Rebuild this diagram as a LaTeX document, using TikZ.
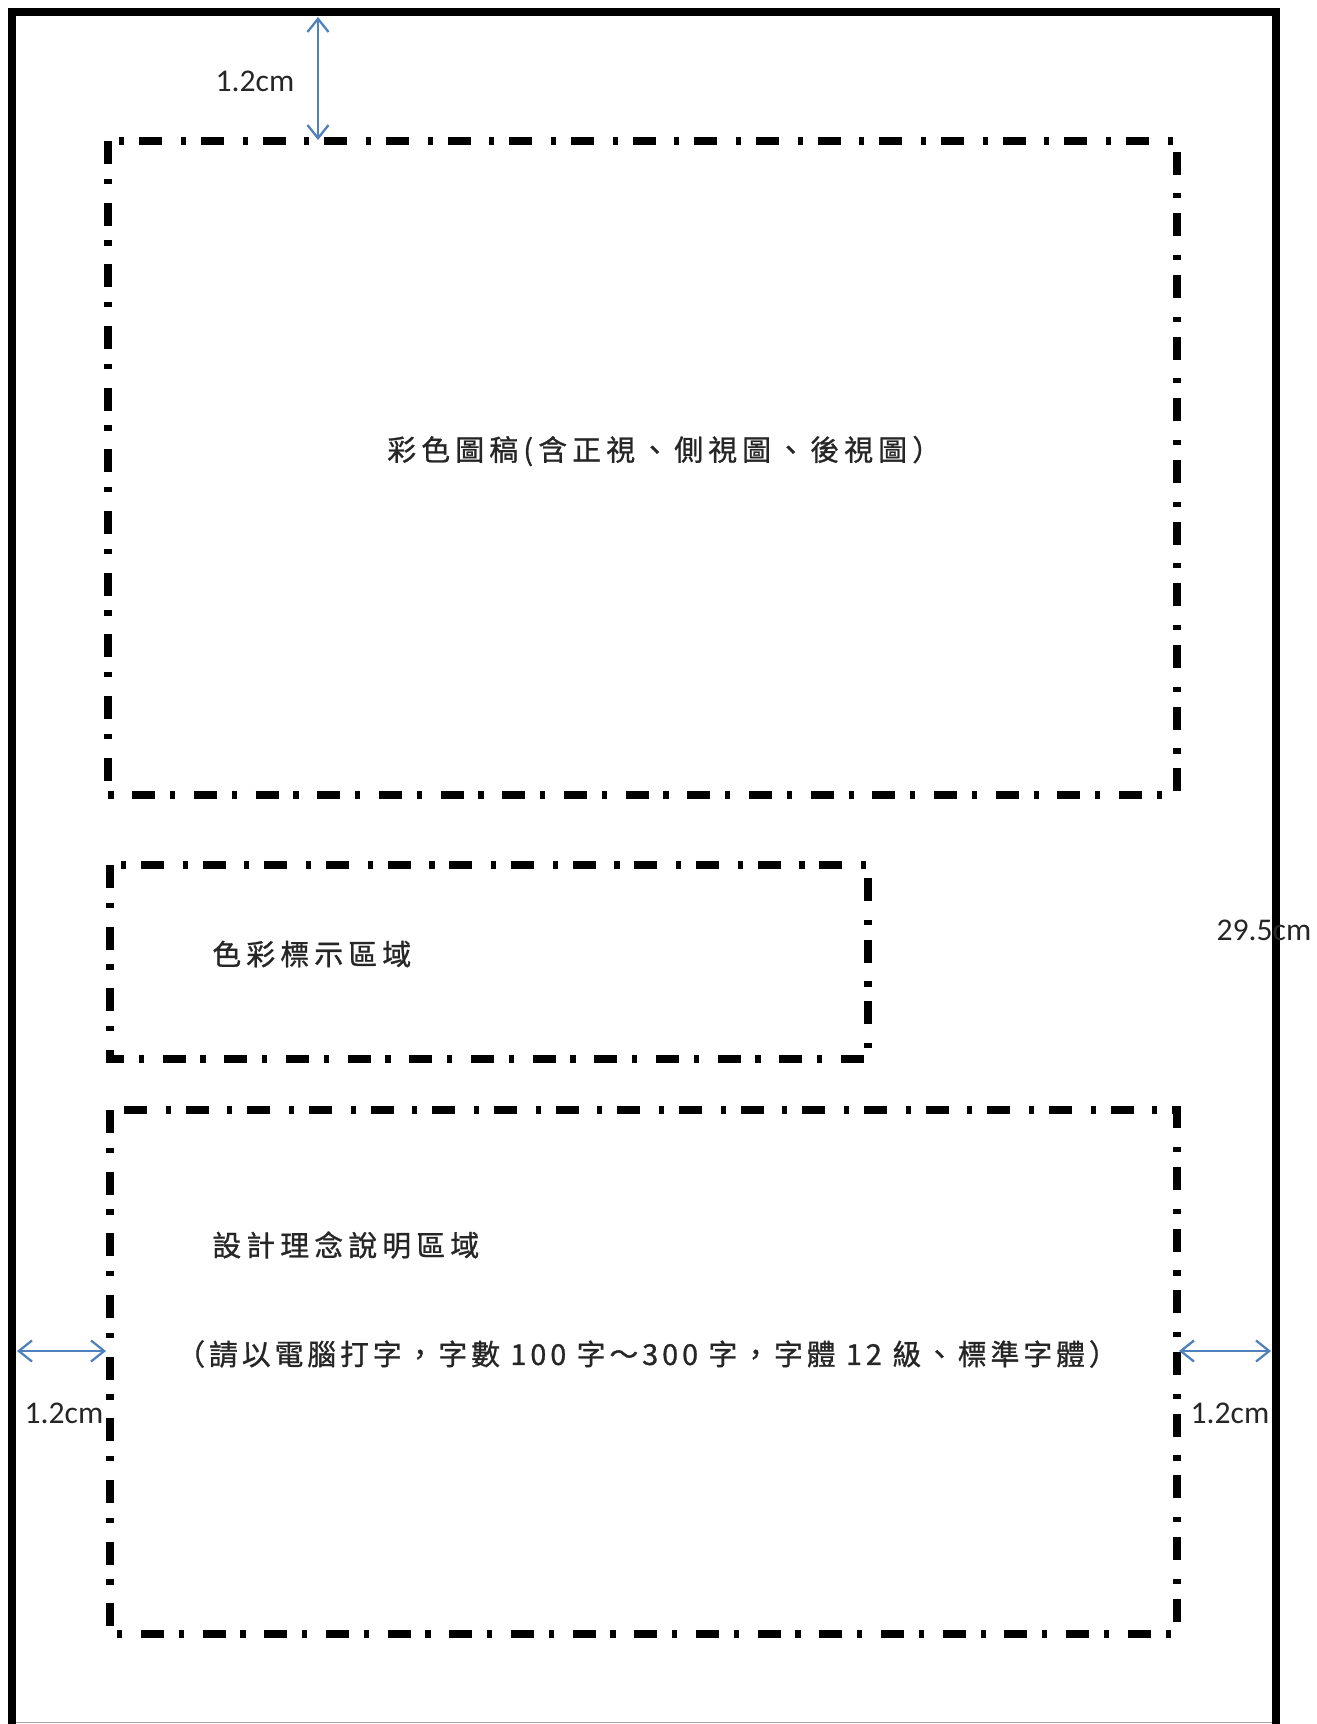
\documentclass[tikz,border=0pt]{standalone}
\usepackage{fontspec}
\setmainfont{Carlito}
\newfontfamily\cjk[LetterSpace=18,FakeBold=1]{Noto Sans CJK TC}
\newfontfamily\cjknarrow[LetterSpace=13.7,FakeBold=1]{Noto Sans CJK TC}
\usetikzlibrary{arrows.meta}
\definecolor{dimblue}{RGB}{79,129,189}
\tikzset{
  frameline/.style={line width=4.6pt, line cap=rect},
  zonebox/.style={line width=5pt, dash pattern=on 13pt off 8.5pt on 3pt off 10.6pt},
  dimarrow/.style={dimblue, line width=1.3pt, {Straight Barb[length=7.5pt,width=12pt,line width=1.3pt]}-{Straight Barb[length=7.5pt,width=12pt,line width=1.3pt]}},
  dimlabel/.style={font=\fontsize{18}{20}\selectfont, inner sep=0pt, text=black!85},
  zonetext/.style={font=\cjk\fontsize{16.4}{18}\selectfont, inner sep=0pt, anchor=west, text=black!85}
}
\begin{document}
\begin{tikzpicture}[x=0.02cm,y=-0.02cm]
\useasboundingbox (0,0) rectangle (1317,1724);
% outer frame (open at the bottom)
\coordinate (fbl) at (12,1724);
\coordinate (ftl) at (12,12);
\coordinate (ftr) at (1276,12);
\coordinate (fbr) at (1276,1724);
\draw[frameline] (fbl) -- (ftl) -- (ftr) -- (fbr);
\draw[black!35, line width=0.4pt] (16,1722.5) -- (1272,1722.5);
% zones
\coordinate (a1) at (108,141); \coordinate (a2) at (1177,795);
\coordinate (b1) at (110,865); \coordinate (b2) at (868,1059);
\coordinate (c1) at (110,1110); \coordinate (c2) at (1177,1634);
\draw[zonebox] (a1) rectangle (a2);
\draw[zonebox] (b1) rectangle (b2);
\draw[zonebox] (c1) rectangle (c2);
% texts
\node[zonetext] (t1) at (387,451) {彩色圖稿(含正視、側視圖、後視圖）};
\node[zonetext] (t2) at (212,954) {色彩標示區域};
\node[zonetext] (t3) at (212,1245) {設計理念說明區域};
\node[zonetext, font=\cjknarrow\fontsize{16.4}{18}\selectfont] (t4) at (176,1354) {（請以電腦打字，字數 100 字～300 字，字體 12 級、標準字體）};
% dimension arrows
\coordinate (d1s) at (318,17); \coordinate (d1e) at (318,140);
\draw[dimarrow] (d1s) -- (d1e);
\node[dimlabel] (l1) at (255,81) {1.2cm};
\coordinate (d2s) at (17,1351); \coordinate (d2e) at (106,1351);
\draw[dimarrow] (d2s) -- (d2e);
\node[dimlabel] (l2) at (64,1413) {1.2cm};
\coordinate (d3s) at (1179,1351); \coordinate (d3e) at (1271,1351);
\draw[dimarrow] (d3s) -- (d3e);
\node[dimlabel] (l3) at (1230,1413) {1.2cm};
\node[dimlabel] (l4) at (1264,930) {29.5cm};
\end{tikzpicture}
\end{document}
